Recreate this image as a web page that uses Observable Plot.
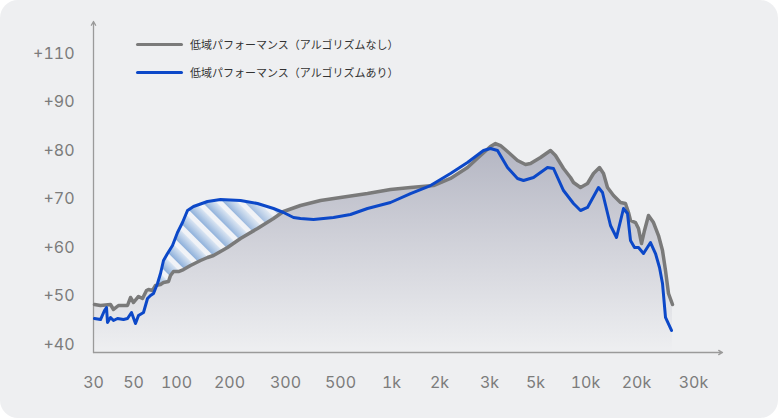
<!DOCTYPE html>
<html><head><meta charset="utf-8">
<script src="https://cdn.jsdelivr.net/npm/d3@7"></script>
<script src="https://cdn.jsdelivr.net/npm/@observablehq/plot@0.6"></script>
<style>
html,body{margin:0;padding:0;background:#fff;}
#card{position:relative;width:778px;height:418px;background:#eeeff1;border-radius:18px;overflow:hidden;}
.legend{position:absolute;left:136px;font-family:"Noto Sans CJK JP",sans-serif;font-size:11px;color:#333;display:flex;align-items:center;line-height:14px;}
.legend .sw{display:inline-block;width:47px;height:3px;margin-right:7px;border-radius:1.5px;}
</style></head><body><div id="card"></div>
<script>
// x positions are in "tick-slot" units (the chart places frequency labels at near-even spacing)
const tickPos = [0, 0.80, 1.66, 2.72, 3.84, 4.94, 5.96, 6.92, 7.92, 8.84, 9.84, 10.86, 12.0];
const tickLabels = ["30","50","100","200","300","500","1k","2k","3k","5k","10k","20k","30k"];
const yTicks = [40, 50, 60, 70, 80, 90, 100];
const yTickLabels = ["+40","+50","+60","+70","+80","+90","+110"];
const xDomain = [0, 12.58];
const yDomain = [38.35, 106.6];

const seriesNames = ["低域パフォーマンス（アルゴリズムなし）", "低域パフォーマンス（アルゴリズムあり）"];
const seriesColors = ["#7a7a7a", "#0c48c8"];

// without algorithm (gray)
const grayX = [0.02,0.14,0.34,0.40,0.50,0.68,0.74,0.80,0.90,0.98,1.06,1.10,1.18,1.24,1.34,1.40,1.50,1.54,1.60,1.70,1.80,1.94,2.14,2.28,2.40,2.68,2.94,3.28,3.60,3.80,4.14,4.54,4.94,5.48,5.94,6.34,6.80,7.14,7.48,7.74,7.94,8.04,8.14,8.28,8.48,8.64,8.74,8.94,9.14,9.24,9.40,9.54,9.60,9.74,9.88,10.00,10.12,10.20,10.28,10.40,10.54,10.64,10.70,10.74,10.84,10.90,10.96,11.02,11.10,11.20,11.30,11.38,11.44,11.50,11.58];
const grayY = [48.25,48.04,48.25,47.22,48.04,48.04,49.69,48.66,49.90,49.48,51.13,51.34,51.13,52.16,52.37,52.78,52.99,54.23,55.05,55.05,55.46,56.29,57.32,57.94,58.35,60.0,61.86,63.92,65.98,67.42,68.66,69.69,70.31,71.13,71.96,72.37,72.78,74.23,76.49,78.97,80.82,81.44,81.03,79.79,77.94,77.11,77.32,78.56,80.0,78.97,76.29,74.43,73.40,72.37,73.20,75.26,76.49,75.26,72.37,70.72,69.28,69.07,67.22,65.57,65.15,63.92,60.82,63.51,66.60,65.15,62.47,59.38,55.26,50.52,48.25];

// with algorithm (blue)
const blueX = [0.02,0.14,0.22,0.26,0.28,0.34,0.40,0.48,0.60,0.68,0.76,0.84,0.90,1.00,1.08,1.14,1.20,1.28,1.34,1.40,1.48,1.58,1.68,1.78,1.88,2.00,2.28,2.54,2.94,3.28,3.60,3.80,4.00,4.14,4.40,4.80,5.14,5.48,5.94,6.34,6.74,7.14,7.48,7.80,7.94,8.08,8.28,8.48,8.60,8.80,9.08,9.20,9.40,9.60,9.74,9.88,10.10,10.18,10.34,10.46,10.60,10.68,10.74,10.82,10.90,11.00,11.14,11.24,11.32,11.38,11.44,11.56];
const blueY = [45.36,45.15,47.01,47.63,44.54,45.57,44.95,45.36,45.15,45.36,46.60,44.33,45.98,46.60,49.48,50.10,50.52,52.58,54.64,57.32,58.76,60.41,63.09,65.15,67.63,68.45,69.48,69.90,69.69,69.07,68.04,67.22,66.19,65.98,65.77,66.19,66.80,68.04,69.28,71.13,72.78,75.26,77.53,80.0,80.41,80.0,76.49,74.23,73.81,74.43,76.49,76.29,71.75,69.07,67.63,68.25,72.37,71.34,64.54,62.06,68.04,67.01,61.44,60.0,60.0,58.76,61.03,58.76,55.88,52.58,45.57,42.89];

const gray = grayX.map((x, i) => ({x, y: grayY[i]}));
const blue = blueX.map((x, i) => ({x, y: blueY[i]}));
const hatchRange = [0.9, 4.3];
const blueBoost = blue.filter(d => d.x >= hatchRange[0] && d.x <= hatchRange[1]);

const defs = () => {
  const ns = "http://www.w3.org/2000/svg";
  const g = document.createElementNS(ns, "defs");
  g.innerHTML = `
    <linearGradient id="grayGrad" x1="0" y1="0" x2="0" y2="1">
      <stop offset="0" stop-color="#b3b5c2"/>
      <stop offset="0.45" stop-color="#cfd0d8"/>
      <stop offset="1" stop-color="#eeeff1"/>
    </linearGradient>
    <linearGradient id="stripeGrad" x1="0" y1="0" x2="1" y2="0">
      <stop offset="0" stop-color="#88acd9"/>
      <stop offset="1" stop-color="#d8e4f2"/>
    </linearGradient>
    <pattern id="hatch" patternUnits="userSpaceOnUse" width="15" height="15" patternTransform="rotate(-45)">
      <rect width="15" height="15" fill="#f1f3f7"/>
      <rect width="10" height="15" fill="url(#stripeGrad)"/>
    </pattern>
    <linearGradient id="fadeGrad" x1="0" y1="0" x2="1" y2="0">
      <stop offset="0" stop-color="#eef0f4" stop-opacity="0"/>
      <stop offset="0.55" stop-color="#eef0f4" stop-opacity="0.1"/>
      <stop offset="1" stop-color="#eef0f4" stop-opacity="0.5"/>
    </linearGradient>`;
  return g;
};

const chart = Plot.plot({
  width: 778,
  height: 418,
  marginLeft: 93,
  marginRight: 56,
  marginTop: 21,
  marginBottom: 66,
  style: {background: "transparent", fontFamily: "Inter, sans-serif", fontSize: "16px", color: "#7c7c7c", overflow: "visible"},
  x: {domain: xDomain, ticks: tickPos, tickFormat: d => tickLabels[tickPos.indexOf(d)], tickSize: 0, tickPadding: 24, label: null},
  y: {domain: yDomain, ticks: yTicks, tickFormat: d => yTickLabels[yTicks.indexOf(d)], tickSize: 0, tickPadding: 19, label: null},
  marks: [
    defs,
    Plot.areaY(blueBoost, {x: "x", y1: () => yDomain[0], y2: "y", fill: "url(#hatch)"}),
    Plot.areaY(blueBoost, {x: "x", y1: () => yDomain[0], y2: "y", fill: "url(#fadeGrad)"}),
    Plot.areaY(gray, {x: "x", y1: () => yDomain[0], y2: "y", fill: "url(#grayGrad)"}),
    Plot.arrow([0], {x1: () => xDomain[0], y1: () => yDomain[0], x2: () => xDomain[1], y2: () => yDomain[0], stroke: "#9a9a9a", strokeWidth: 1.3, headLength: 5}),
    Plot.arrow([0], {x1: () => xDomain[0], y1: () => yDomain[0], x2: () => xDomain[0], y2: () => yDomain[1], stroke: "#9a9a9a", strokeWidth: 1.3, headLength: 5}),
    Plot.line(gray, {x: "x", y: "y", stroke: seriesColors[0], strokeWidth: 3.5, strokeLinejoin: "round", strokeLinecap: "round"}),
    Plot.line(blue, {x: "x", y: "y", stroke: seriesColors[1], strokeWidth: 3, strokeLinejoin: "round", strokeLinecap: "round"})
  ]
});
const card = document.getElementById("card");
card.appendChild(chart);
seriesNames.forEach((name, i) => {
  const d = document.createElement("div");
  d.className = "legend";
  d.style.top = (37 + i * 28) + "px";
  d.innerHTML = `<span class="sw" style="background:${seriesColors[i]}"></span><span>${name}</span>`;
  card.appendChild(d);
});
</script>
</body></html>
